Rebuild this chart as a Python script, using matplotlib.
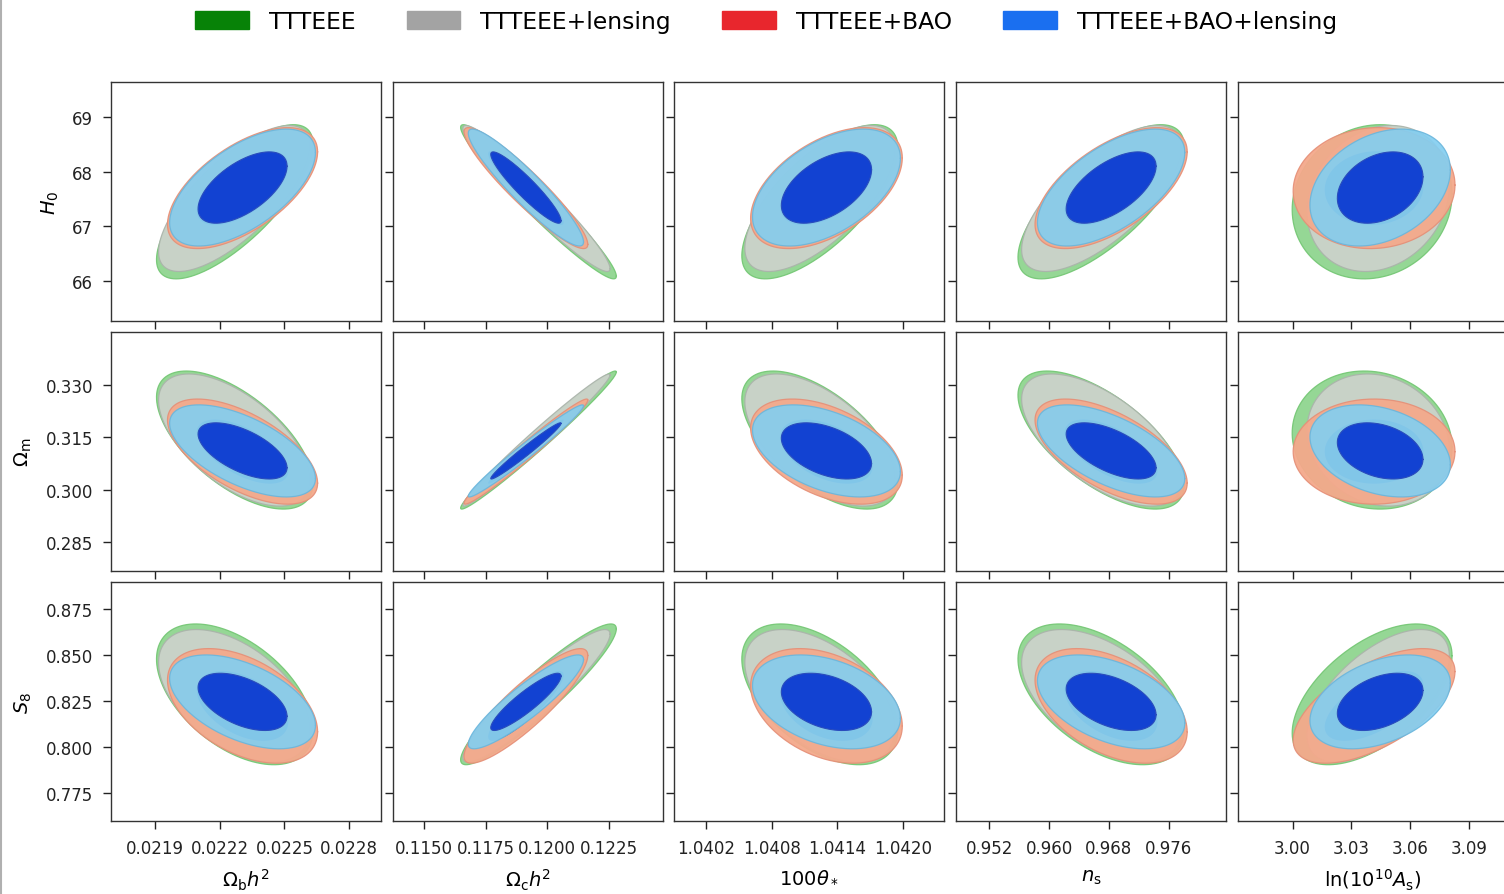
import numpy as np
import matplotlib
matplotlib.use("Agg")
import matplotlib.pyplot as plt
from matplotlib.patches import Patch
from matplotlib.lines import Line2D

plt.rcParams["font.family"] = ["DejaVu Sans"]
plt.rcParams["mathtext.fontset"] = "dejavusans"

# ---------------------------------------------------------------- data
x_labels = [r"$\Omega_{\rm b}h^2$", r"$\Omega_{\rm c}h^2$", r"$100\theta_*$",
            r"$n_{\rm s}$", r"${\rm ln}(10^{10}A_{\rm s})$"]
y_labels = [r"$H_0$", r"$\Omega_{\rm m}$", r"$S_8$"]

dataset_names = ["TTTEEE", "TTTEEE+lensing", "TTTEEE+BAO", "TTTEEE+BAO+lensing"]

# posterior means / standard deviations of the x parameters
# (ombh2, omch2, 100theta, ns, ln10As)
mean_x_tt = [0.02227, 0.11964, 1.04124, 0.96696, 3.0406]
sig_x_tt = [0.000146, 0.00127, 0.000286, 0.00448, 0.0164]
mean_x_tt_lens = [0.022267, 0.11956, 1.04124, 0.9670, 3.0437]
sig_x_tt_lens = [0.000141, 0.00120, 0.000275, 0.0043, 0.0146]
mean_x_bao = [0.022306, 0.11913, 1.04130, 0.9683, 3.0416]
sig_x_bao = [0.000140, 0.00101, 0.000278, 0.0041, 0.0166]
mean_x_bao_lens = [0.022306, 0.11913, 1.04130, 0.9683, 3.0447]
sig_x_bao_lens = [0.000136, 0.00094, 0.000271, 0.00397, 0.0144]

# posterior means / standard deviations of the y parameters (H0, Om, S8)
mean_y_tt = [67.45, 0.3142, 0.8288]
sig_y_tt = [0.567, 0.00793, 0.0154]
mean_y_tt_lens = [67.51, 0.3142, 0.8280]
sig_y_tt_lens = [0.537, 0.00759, 0.0145]
mean_y_bao = [67.70, 0.3109, 0.8225]
sig_y_bao = [0.445, 0.00604, 0.01254]
mean_y_bao_lens = [67.71, 0.3111, 0.8247]
sig_y_bao_lens = [0.43, 0.00529, 0.01027]

# correlation coefficients, rows = x parameters, columns = (H0, Om, S8)
corr_tt = [[0.75, -0.62, -0.50],
           [-0.965, 0.985, 0.93],
           [0.70, -0.60, -0.50],
           [0.72, -0.65, -0.50],
           [0.10, -0.10, 0.55]]
corr_tt_lens = [[0.73, -0.60, -0.50],
                [-0.96, 0.985, 0.93],
                [0.68, -0.58, -0.50],
                [0.70, -0.62, -0.50],
                [0.18, -0.15, 0.60]]
corr_bao = [[0.60, -0.60, -0.45],
            [-0.93, 0.98, 0.88],
            [0.50, -0.45, -0.35],
            [0.60, -0.60, -0.45],
            [0.05, 0.00, 0.60]]
corr_bao_lens = [[0.60, -0.60, -0.50],
                 [-0.93, 0.98, 0.90],
                 [0.50, -0.45, -0.35],
                 [0.60, -0.60, -0.45],
                 [0.30, -0.30, 0.40]]

x_ticks = [[0.0219, 0.0222, 0.0225, 0.0228],
           [0.1150, 0.1175, 0.1200, 0.1225],
           [1.0402, 1.0408, 1.0414, 1.0420],
           [0.952, 0.960, 0.968, 0.976],
           [3.00, 3.03, 3.06, 3.09]]
x_tick_fmt = ["{:.4f}", "{:.4f}", "{:.4f}", "{:.3f}", "{:.2f}"]
y_ticks = [[66, 67, 68, 69],
           [0.285, 0.300, 0.315, 0.330],
           [0.775, 0.800, 0.825, 0.850, 0.875]]
y_tick_fmt = ["{:.0f}", "{:.3f}", "{:.3f}"]

x_lims = [(0.021696, 0.022948), (0.11374, 0.12469), (1.039911, 1.042371),
          (0.94752, 0.98369), (2.9722, 3.1099)]
y_lims = [(65.27, 69.64), (0.2768, 0.34506), (0.7599, 0.8899)]

# ---------------------------------------------------------------- style
chains = [
    dict(mx=mean_x_tt, sx=sig_x_tt, my=mean_y_tt, sy=sig_y_tt, rho=corr_tt,
         fill2="#8fd58f", edge2="#72c672", fill1=None, alpha=0.95),
    dict(mx=mean_x_tt_lens, sx=sig_x_tt_lens, my=mean_y_tt_lens, sy=sig_y_tt_lens,
         rho=corr_tt_lens, fill2="#cbd2ca", edge2="#aab3aa", fill1=None, alpha=0.95),
    dict(mx=mean_x_bao, sx=sig_x_bao, my=mean_y_bao, sy=sig_y_bao, rho=corr_bao,
         fill2="#f4a98b", edge2="#e58f77", fill1="#6a6f9a", alpha=0.95),
    dict(mx=mean_x_bao_lens, sx=sig_x_bao_lens, my=mean_y_bao_lens, sy=sig_y_bao_lens,
         rho=corr_bao_lens, fill2="#84cef0", edge2="#6ab6dc", fill1="#1242d2",
         alpha=0.92),
]
legend_colors = ["#078207", "#a3a3a3", "#e8262d", "#1a6ff0"]

DCHI2_1SIG = 2.30
DCHI2_2SIG = 6.18


def gauss_contour(mx, my, sx, sy, rho, dchi2, n=240):
    t = np.linspace(0, 2 * np.pi, n)
    cov = np.array([[sx * sx, rho * sx * sy], [rho * sx * sy, sy * sy]])
    L = np.linalg.cholesky(cov)
    u = np.sqrt(dchi2) * np.vstack([np.cos(t), np.sin(t)])
    p = L @ u
    return mx + p[0], my + p[1]


W, H = 1504, 895
fig = plt.figure(figsize=(W / 100, H / 100), dpi=100)

col_left = [111, 393, 674, 956, 1238]
row_top = [83, 333, 583]
pw, ph = 270, 239

for r in range(3):
    for c in range(5):
        ax = fig.add_axes([col_left[c] / W, 1 - (row_top[r] + ph) / H, pw / W, ph / H])
        for ch in chains:
            mx, sx = ch["mx"][c], ch["sx"][c]
            my, sy = ch["my"][r], ch["sy"][r]
            rho = ch["rho"][c][r]
            xs, ys = gauss_contour(mx, my, sx, sy, rho, DCHI2_2SIG)
            ax.fill(xs, ys, color=ch["fill2"], alpha=ch["alpha"], lw=0, zorder=2)
            ax.plot(xs, ys, color=ch["edge2"], lw=0.9, alpha=0.9, zorder=2)
            if ch["fill1"] is not None:
                xs1, ys1 = gauss_contour(mx, my, sx, sy, rho, DCHI2_1SIG)
                if ch is chains[-1]:
                    ax.fill(xs1, ys1, color=ch["fill1"], lw=0, zorder=3)
                    ax.plot(xs1, ys1, color="#2a4cbc", lw=0.8, zorder=3)
                else:
                    ax.fill(xs1, ys1, color=ch["fill1"], lw=0, zorder=2)
        ax.set_xlim(*x_lims[c])
        ax.set_ylim(*y_lims[r])
        ax.set_xticks(x_ticks[c])
        ax.set_yticks(y_ticks[r])
        ax.tick_params(direction="out", length=6, width=1, colors="#222222",
                       labelsize=12, pad=7)
        for sp in ax.spines.values():
            sp.set_color("#333333")
            sp.set_linewidth(1.0)
        if r == 2:
            ax.set_xticklabels([x_tick_fmt[c].format(v) for v in x_ticks[c]])
            ax.set_xlabel(x_labels[c], fontsize=14, labelpad=7)
        else:
            ax.set_xticklabels([])
        if c == 0:
            ax.set_yticklabels([y_tick_fmt[r].format(v) for v in y_ticks[r]])
            ax.set_ylabel(y_labels[r], fontsize=14, labelpad=8)
        else:
            ax.set_yticklabels([])

handles = [Patch(facecolor=col, edgecolor=col) for col in legend_colors]
fig.legend(handles, dataset_names, loc="upper center", ncol=4,
           bbox_to_anchor=(766 / W, 1.0 + 3 / H), frameon=False, fontsize=16.8,
           handlelength=2.3, handleheight=0.8, handletextpad=0.85,
           columnspacing=2.2, borderaxespad=0.2)

fig.add_artist(Line2D([0.0008, 0.0008], [0, 1], transform=fig.transFigure,
                      color="#b0b0b0", lw=1.5))

fig.savefig("out.png", dpi=100)
